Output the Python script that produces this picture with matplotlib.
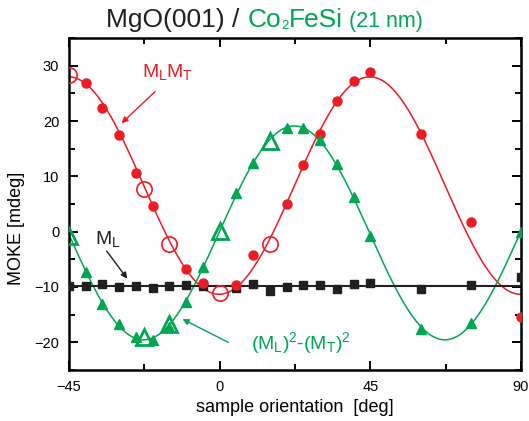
import matplotlib
matplotlib.use('Agg')
import matplotlib.pyplot as plt
import numpy as np

plt.rcParams['font.family'] = ['Liberation Sans', 'DejaVu Sans']
plt.rcParams['mathtext.fontset'] = 'custom'
plt.rcParams['mathtext.rm'] = 'Liberation Sans'
plt.rcParams['mathtext.it'] = 'Liberation Sans'
plt.rcParams['mathtext.bf'] = 'Liberation Sans:bold'

RED = '#ed1c24'
GREEN = '#00a651'
BLACK = '#231f20'

# M_L M_T (red), filled = measured, open = other set
mlmt_ang = [-40, -35, -30, -25, -20, -10, -5, 5, 10, 20, 25, 30, 35, 40, 45, 60, 75, 90]
mlmt_val = [26.9, 22.3, 17.5, 10.6, 4.7, -6.8, -9.2, -9.7, -4.3, 5.0, 12.1, 17.6, 23.6, 27.3, 28.8, 17.7, 1.7, -15.4]
mlmt_open_ang = [-45, -22.5, -15, 0, 15]
mlmt_open_val = [28.4, 7.7, -2.2, -11.0, -2.2]

# (M_L)^2-(M_T)^2 (green)
diff_ang = [-40, -35, -30, -25, -20, -15, -10, -5, 5, 10, 20, 25, 30, 35, 40, 45, 60, 75, 90]
diff_val = [-7.3, -13.1, -16.6, -19.0, -19.5, -17.3, -12.8, -6.3, 6.9, 12.5, 18.8, 18.7, 16.6, 12.3, 6.3, -0.7, -17.5, -16.5, -0.1]
diff_open_ang = [-45, -22.5, -15, 0, 15]
diff_open_val = [-0.85, -19.1, -16.6, 0.2, 16.3]

# M_L (black)
ml_ang = [-45, -40, -35, -30, -25, -20, -15, -10, -5, 5, 10, 15, 20, 25, 30, 35, 40, 45, 60, 75, 90]
ml_val = [-9.9, -9.9, -9.5, -10.0, -9.9, -10.2, -9.8, -9.7, -9.8, -10.2, -9.4, -10.8, -10.0, -9.6, -9.7, -10.3, -9.4, -9.3, -10.3, -9.7, -8.2]

xticks = [-45, 0, 45, 90]
yticks = [-20, -10, 0, 10, 20, 30]


def fit4(ang, val):
    # least squares fit: c0 + c1*cos(4t) + c2*sin(4t)
    th = np.radians(4 * np.asarray(ang, dtype=float))
    A = np.column_stack([np.ones_like(th), np.cos(th), np.sin(th)])
    c = np.linalg.lstsq(A, np.asarray(val, dtype=float), rcond=None)[0]
    return c


def eval4(c, t):
    th = np.radians(4 * t)
    return c[0] + c[1] * np.cos(th) + c[2] * np.sin(th)


W, H = 529, 421
fig = plt.figure(figsize=(W / 100, H / 100), dpi=100)
ax = fig.add_axes([69 / W, 51 / H, 452 / W, 332 / H])  # [left, bottom, width, height]

t = np.linspace(-45, 90, 500)
c_red = fit4(mlmt_ang + mlmt_open_ang, mlmt_val + mlmt_open_val)
c_grn = fit4(diff_ang + diff_open_ang, diff_val + diff_open_val)

ax.plot(t, eval4(c_red, t), color=RED, lw=1.1, zorder=2)
ax.plot(t, eval4(c_grn, t), color=GREEN, lw=1.1, zorder=2)
ax.axhline(np.mean(ml_val), color=BLACK, lw=1.5, zorder=2)

ax.plot(ml_ang, ml_val, 's', color=BLACK, ms=5.5, zorder=3)
ax.plot(mlmt_ang, mlmt_val, 'o', color=RED, ms=6.5, zorder=4)
ax.plot(mlmt_open_ang, mlmt_open_val, 'o', mfc='none', mec=RED, mew=1.2, ms=11, zorder=4)
ax.plot(diff_ang, diff_val, '^', color=GREEN, ms=7.5, zorder=5)
ax.plot(diff_open_ang, diff_open_val, '^', mfc='none', mec=GREEN, mew=2.0, ms=12, zorder=5)

ax.set_xlim(-45, 90)
ax.set_ylim(-25, 35)
ax.set_xticks(xticks)
ax.set_xticks([-22.5, 22.5, 67.5], minor=True)
ax.set_yticks(yticks)
ax.set_yticks([-25, -15, -5, 5, 15, 25, 35], minor=True)
ax.tick_params(which='both', direction='in', top=True, right=True, width=1.4, labelsize=10.5, pad=7)
ax.tick_params(which='major', length=6.5)
ax.tick_params(which='minor', length=4)
for sp in ax.spines.values():
    sp.set_linewidth(1.8)

ax.set_xlabel('sample orientation  [deg]', fontsize=13, labelpad=4)
# y label sits a bit below the axis centre in the original
fig.text(17 / W, 1 - 228 / H, 'MOKE [mdeg]', fontsize=13, rotation=90, ha='center', va='center')

# labels with arrows
ax.text(-23.3, 27.9, r'M$_\mathregular{L}$M$_\mathregular{T}$', color=RED, fontsize=14, ha='left', va='baseline')
ax.annotate('', xy=(-29.3, 19.6), xytext=(-19.3, 25.3),
            arrowprops=dict(arrowstyle='-|>', color=RED, lw=1.0, mutation_scale=9, shrinkA=0, shrinkB=0))
ax.text(-37.2, -2.2, r'M$_\mathregular{L}$', color=BLACK, fontsize=14, ha='left', va='baseline')
ax.annotate('', xy=(-27.6, -8.5), xytext=(-33.75, -3.5),
            arrowprops=dict(arrowstyle='-|>', color=BLACK, lw=1.0, mutation_scale=9, shrinkA=0, shrinkB=0))
ax.text(9.5, -21.2, r'(M$_\mathregular{L}$)$^\mathregular{2}$-(M$_\mathregular{T}$)$^\mathregular{2}$',
        color=GREEN, fontsize=14, ha='left', va='baseline')
ax.annotate('', xy=(-11.1, -15.8), xytext=(2.55, -20.0),
            arrowprops=dict(arrowstyle='-|>', color=GREEN, lw=1.0, mutation_scale=9, shrinkA=0, shrinkB=0))

# title in two colours, placed piece by piece
fig.canvas.draw()
rend = fig.canvas.get_renderer()
ybase = 1 - 27.3 / H
pieces = [('MgO(001) /', BLACK, 19, 0, 0),
          ('Co', GREEN, 19, 8, 0),
          ('2', GREEN, 9.5, 0, -2),
          ('FeSi', GREEN, 19, 0, 0),
          ('(21 nm)', GREEN, 15.5, 6, 0)]
texts = []
for s, col, fs, gap, dy in pieces:
    tt = fig.text(0, ybase + dy / H, s, color=col, fontsize=fs, va='baseline', ha='left')
    w = tt.get_window_extent(rend).width
    texts.append((tt, gap, w))
total = sum(g + w for _, g, w in texts)
x = (W - total) / 2
for tt, gap, w in texts:
    x += gap
    tt.set_x(x / W)
    x += w

fig.savefig('out.png', dpi=100)
